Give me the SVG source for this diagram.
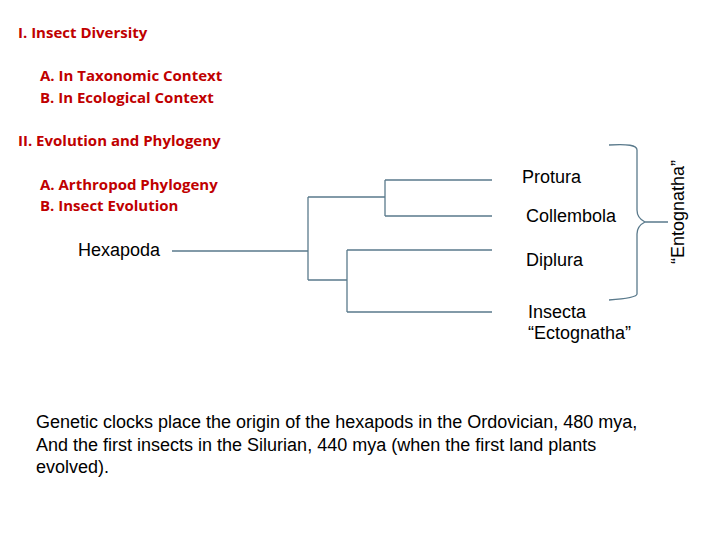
<svg xmlns="http://www.w3.org/2000/svg" width="720" height="540" viewBox="0 0 720 540">
<style>
.h{font-family:"Open Sans","Liberation Sans",sans-serif;font-weight:bold;font-size:15px;fill:#c00000}
.t{font-family:"Liberation Sans",Arial,sans-serif;font-size:18px;fill:#000}
.c{stroke:#5a7a8c;stroke-width:1.3;fill:none}
</style>
<rect width="720" height="540" fill="#fff"/>
<text class="h" x="18" y="38">I. Insect Diversity</text>
<text class="h" x="40" y="81">A. In Taxonomic Context</text>
<text class="h" x="40" y="103">B. In Ecological Context</text>
<text class="h" x="18" y="146">II. Evolution and Phylogeny</text>
<text class="h" x="40" y="190">A. Arthropod Phylogeny</text>
<text class="h" x="40" y="211">B. Insect Evolution</text>
<g id="connectors">
<path class="c" d="M172 251H308M308 197V280M308 197H385M385 180V216M385 180H492M385 216H492M308 280H347M347 250V312M347 250H492M347 312H492"/>
<path class="c" d="M609 145Q637 143 637 150V210Q637 218 645 222Q637 226 637 234V294Q637 298 609 300M645 222H668"/>
</g>
<g id="hexapoda"><text class="t" x="78" y="256">Hexapoda</text></g>
<g id="protura"><text class="t" x="522" y="183">Protura</text></g>
<g id="collembola"><text class="t" x="526" y="222">Collembola</text></g>
<g id="diplura"><text class="t" x="526" y="266">Diplura</text></g>
<g id="insecta"><text class="t" x="528" y="318">Insecta</text><text class="t" x="528" y="339">“Ectognatha”</text></g>
<g id="entognatha"><text class="t" transform="translate(684,212) rotate(-90)" text-anchor="middle">“Entognatha”</text></g>
<text class="t" x="36" y="428">Genetic clocks place the origin of the hexapods in the Ordovician, 480 mya,</text>
<text class="t" x="36" y="451">And the first insects in the Silurian, 440 mya (when the first land plants</text>
<text class="t" x="36" y="473">evolved).</text>
</svg>
